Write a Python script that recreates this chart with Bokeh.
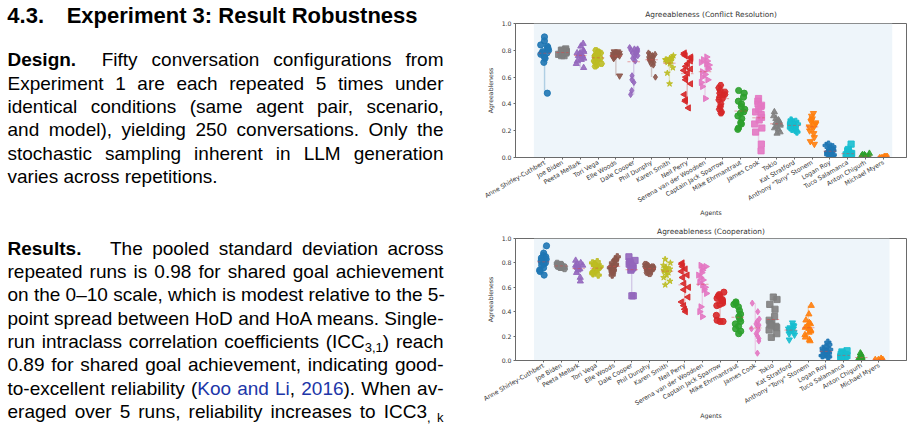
import math
from bokeh.plotting import figure
from bokeh.models import ColumnDataSource, FixedTicker, BoxAnnotation, Div, Range1d, PrintfTickFormatter
from bokeh.layouts import row, column
from bokeh.transform import jitter
from bokeh.embed import file_html
from bokeh.resources import INLINE

AGENTS = ["Anne Shirley-Cuthbert", "Joe Biden", "Peeta Mellark", "Tori Vega", "Elle Woods",
          "Dale Cooper", "Phil Dunphy", "Karen Smith", "Neil Perry", "Serena van der Woodsen",
          "Captain Jack Sparrow", "Mike Ehrmantraut", "James Cook", "Tokio", "Kat Stratford",
          'Anthony "Tony" Stonem', "Logan Roy", "Tuco Salamanca", "Anton Chigurh", "Michael Myers"]
Y_TICKS = [0.0, 0.2, 0.4, 0.6, 0.8, 1.0]

# ---- Agreeableness (Conflict Resolution) ----
cr_anne = [0.90, 0.87, 0.84, 0.83, 0.82, 0.81, 0.80, 0.79, 0.78, 0.78, 0.77, 0.75, 0.74, 0.71, 0.48]
cr_joe = [0.81, 0.80, 0.80, 0.79, 0.79, 0.78, 0.78, 0.77, 0.77, 0.76, 0.76, 0.77, 0.78, 0.79, 0.80]
cr_peeta = [0.85, 0.83, 0.80, 0.79, 0.78, 0.77, 0.76, 0.76, 0.75, 0.74, 0.73, 0.72, 0.70, 0.67, 0.78]
cr_tori = [0.80, 0.79, 0.78, 0.77, 0.76, 0.75, 0.74, 0.73, 0.72, 0.71, 0.70, 0.69, 0.68, 0.76, 0.78]
cr_elle = [0.79, 0.78, 0.78, 0.77, 0.77, 0.77, 0.76, 0.76, 0.75, 0.75, 0.74, 0.78, 0.79, 0.61, 0.76]
cr_dale = [0.82, 0.81, 0.80, 0.79, 0.77, 0.76, 0.75, 0.74, 0.72, 0.61, 0.58, 0.56, 0.50, 0.47, 0.78, 0.80, 0.79, 0.81]
cr_phil = [0.78, 0.77, 0.76, 0.75, 0.74, 0.74, 0.73, 0.72, 0.71, 0.70, 0.69, 0.60, 0.77, 0.75, 0.73]
cr_karen = [0.76, 0.75, 0.74, 0.73, 0.73, 0.72, 0.71, 0.70, 0.67, 0.63, 0.55, 0.74, 0.72]
cr_neil = [0.78, 0.77, 0.76, 0.75, 0.74, 0.72, 0.70, 0.68, 0.66, 0.65, 0.63, 0.60, 0.58, 0.55, 0.47, 0.43, 0.42, 0.37]
cr_serena = [0.75, 0.73, 0.72, 0.70, 0.69, 0.67, 0.66, 0.64, 0.62, 0.60, 0.58, 0.56, 0.53, 0.44, 0.71]
cr_jack = [0.54, 0.52, 0.50, 0.49, 0.48, 0.47, 0.46, 0.45, 0.44, 0.43, 0.40, 0.38, 0.36, 0.34, 0.33]
cr_mike = [0.50, 0.48, 0.45, 0.42, 0.40, 0.38, 0.36, 0.34, 0.33, 0.31, 0.29, 0.26, 0.25, 0.22, 0.21]
cr_james = [0.44, 0.42, 0.40, 0.39, 0.38, 0.36, 0.34, 0.32, 0.30, 0.28, 0.25, 0.22, 0.19, 0.10, 0.05]
cr_tokio = [0.34, 0.31, 0.29, 0.28, 0.27, 0.26, 0.25, 0.25, 0.24, 0.23, 0.22, 0.21, 0.19, 0.18]
cr_kat = [0.28, 0.27, 0.27, 0.26, 0.26, 0.25, 0.25, 0.24, 0.24, 0.23, 0.22, 0.22, 0.21, 0.20, 0.19]
cr_tony = [0.33, 0.31, 0.29, 0.28, 0.27, 0.26, 0.25, 0.24, 0.23, 0.22, 0.20, 0.18, 0.15, 0.12, 0.10]
cr_logan = [0.10, 0.09, 0.08, 0.07, 0.06, 0.05, 0.05, 0.04, 0.04, 0.03, 0.03, 0.02, 0.02, 0.01, 0.01]
cr_tuco = [0.10, 0.06, 0.05, 0.04, 0.03, 0.03, 0.02, 0.02, 0.01, 0.01, 0.01, 0.00, 0.00, 0.02]
cr_anton = [0.03, 0.02, 0.02, 0.01, 0.01, 0.01, 0.00, 0.00, 0.00, 0.01]
cr_michael = [0.01, 0.01, 0.00, 0.00, 0.00, 0.00, 0.01, 0.00]

# ---- Agreeableness (Cooperation) ----
co_anne = [0.94, 0.88, 0.86, 0.85, 0.84, 0.83, 0.82, 0.81, 0.80, 0.79, 0.78, 0.76, 0.74, 0.73, 0.70]
co_joe = [0.80, 0.79, 0.79, 0.78, 0.78, 0.77, 0.77, 0.76, 0.76, 0.75, 0.78, 0.77, 0.79, 0.76]
co_peeta = [0.82, 0.80, 0.79, 0.78, 0.77, 0.76, 0.75, 0.75, 0.74, 0.72, 0.68, 0.65, 0.78]
co_tori = [0.81, 0.80, 0.79, 0.78, 0.77, 0.76, 0.75, 0.74, 0.73, 0.72, 0.71, 0.70, 0.78]
co_elle = [0.85, 0.83, 0.82, 0.80, 0.79, 0.78, 0.77, 0.76, 0.75, 0.74, 0.73, 0.72, 0.70]
co_dale = [0.85, 0.82, 0.81, 0.80, 0.79, 0.78, 0.77, 0.76, 0.75, 0.74, 0.53, 0.53]
co_phil = [0.79, 0.78, 0.77, 0.76, 0.76, 0.75, 0.75, 0.74, 0.73, 0.72, 0.71, 0.77]
co_karen = [0.83, 0.80, 0.78, 0.76, 0.75, 0.74, 0.73, 0.72, 0.70, 0.68, 0.65, 0.62, 0.76]
co_neil = [0.80, 0.79, 0.77, 0.75, 0.73, 0.70, 0.68, 0.63, 0.60, 0.58, 0.52, 0.48, 0.45, 0.42, 0.40]
co_serena = [0.78, 0.77, 0.76, 0.74, 0.72, 0.70, 0.68, 0.66, 0.64, 0.62, 0.60, 0.58, 0.55, 0.44, 0.40, 0.36]
co_jack = [0.56, 0.54, 0.53, 0.52, 0.51, 0.50, 0.49, 0.48, 0.47, 0.46, 0.45, 0.37, 0.33, 0.32, 0.32]
co_mike = [0.48, 0.47, 0.46, 0.44, 0.41, 0.38, 0.36, 0.34, 0.32, 0.30, 0.28, 0.26, 0.24, 0.22]
co_james = [0.47, 0.40, 0.34, 0.32, 0.30, 0.29, 0.28, 0.26, 0.25, 0.22, 0.20, 0.18, 0.16, 0.06]
co_tokio = [0.52, 0.50, 0.46, 0.42, 0.36, 0.33, 0.31, 0.30, 0.29, 0.28, 0.27, 0.25, 0.22, 0.19]
co_kat = [0.31, 0.29, 0.28, 0.27, 0.26, 0.26, 0.25, 0.25, 0.24, 0.23, 0.22, 0.21, 0.17]
co_tony = [0.45, 0.38, 0.33, 0.31, 0.30, 0.28, 0.27, 0.26, 0.25, 0.24, 0.23, 0.21, 0.19, 0.17, 0.16]
co_logan = [0.15, 0.13, 0.11, 0.10, 0.09, 0.08, 0.07, 0.07, 0.06, 0.05, 0.04, 0.04, 0.03, 0.03]
co_tuco = [0.08, 0.07, 0.06, 0.05, 0.05, 0.04, 0.04, 0.03, 0.03, 0.02, 0.02, 0.01]
co_anton = [0.06, 0.05, 0.03, 0.02, 0.02, 0.01, 0.01, 0.01, 0.01]
co_michael = [0.02, 0.01, 0.01, 0.00, 0.00, 0.00, 0.01]

CR = [cr_anne, cr_joe, cr_peeta, cr_tori, cr_elle, cr_dale, cr_phil, cr_karen, cr_neil, cr_serena,
      cr_jack, cr_mike, cr_james, cr_tokio, cr_kat, cr_tony, cr_logan, cr_tuco, cr_anton, cr_michael]
CO = [co_anne, co_joe, co_peeta, co_tori, co_elle, co_dale, co_phil, co_karen, co_neil, co_serena,
      co_jack, co_mike, co_james, co_tokio, co_kat, co_tony, co_logan, co_tuco, co_anton, co_michael]

# ---- styles ----
BLUE, ORANGE, GREEN, RED, PURPLE = "#1f77b4", "#ff7f0e", "#2ca02c", "#d62728", "#9467bd"
BROWN, PINK, GRAY, OLIVE, CYAN = "#8c564b", "#e377c2", "#7f7f7f", "#bcbd22", "#17becf"
COLORS = [BLUE, GRAY, PURPLE, OLIVE, BROWN, PURPLE, BROWN, OLIVE, RED, PINK,
          RED, GREEN, PINK, GRAY, CYAN, ORANGE, BLUE, CYAN, GREEN, ORANGE]
MARK_CR = ["circle", "square", "triangle", "hex", "inverted_triangle", "diamond", "diamond", "star",
           "tri_left", "tri_right", "hex", "circle", "square", "triangle", "plus", "inverted_triangle",
           "plus", "square", "triangle", "diamond"]
MARK_CO = ["circle", "hex", "triangle", "plus", "plus", "square", "hex", "star",
           "tri_left", "tri_right", "circle", "circle", "diamond", "square", "inverted_triangle", "triangle",
           "plus", "square", "triangle", "diamond"]
FONT = "DejaVu Sans"
TXT = "#333333"
SPINE = "#6a6a6a"


def build(title, series, markers, xr, span, height, borders, standoff):
    xs, ys, cs, ms, angs = [], [], [], [], []
    seg_x, lo, hi, means = [], [], [], []
    for i, vals in enumerate(series):
        seg_x.append(i)
        lo.append(min(vals))
        hi.append(max(vals))
        means.append(sum(vals) / len(vals))
        for v in vals:
            xs.append(i)
            ys.append(v)
            cs.append(COLORS[i])
            m = markers[i]
            if m == "tri_left":
                ms.append("triangle"); angs.append(math.pi / 2)
            elif m == "tri_right":
                ms.append("triangle"); angs.append(-math.pi / 2)
            else:
                ms.append(m); angs.append(0.0)
    left, right, top, bottom = borders
    p = figure(width=448, height=height, x_range=Range1d(*xr), y_range=Range1d(0, 1),
               output_backend="svg", toolbar_location=None, title=title,
               min_border_left=left, min_border_right=right, min_border_top=top,
               min_border_bottom=bottom)
    p.title.align = "center"
    p.title.text_font = FONT
    p.title.text_font_style = "normal"
    p.title.text_font_size = "7.4px"
    p.title.text_color = TXT
    p.title.standoff = standoff
    p.xgrid.visible = False
    p.ygrid.visible = False
    p.outline_line_color = SPINE
    p.outline_line_width = 1
    p.add_layout(BoxAnnotation(left=span[0], right=span[1], fill_color="#eef5fa", fill_alpha=1.0,
                               line_color=None, level="underlay"))
    p.segment(x0=seg_x, y0=lo, x1=seg_x, y1=hi, line_color=COLORS, line_alpha=0.3, line_width=1.4)
    src = ColumnDataSource(dict(x=xs, y=ys, c=cs, m=ms, a=angs))
    p.scatter(x=jitter("x", width=0.46, distribution="uniform"), y="y", marker="m", angle="a",
              fill_color="c", line_color="c", fill_alpha=0.9, line_alpha=0.9, size=6.2, source=src)
    p.segment(x0=[i - 0.35 for i in seg_x], y0=means, x1=[i + 0.35 for i in seg_x], y1=means,
              line_color="#e04848", line_alpha=0.5, line_width=1.0, line_dash="3 2")

    p.xaxis.ticker = FixedTicker(ticks=list(range(len(AGENTS))))
    p.xaxis.major_label_overrides = {i: a for i, a in enumerate(AGENTS)}
    p.xaxis.major_label_orientation = math.pi / 6
    p.yaxis.ticker = FixedTicker(ticks=Y_TICKS)
    p.yaxis.formatter = PrintfTickFormatter(format="%.1f")
    p.xaxis.axis_label = "Agents"
    p.yaxis.axis_label = "Agreeableness"
    for ax in (p.xaxis[0], p.yaxis[0]):
        ax.axis_line_color = SPINE
        ax.major_tick_line_color = SPINE
        ax.major_tick_out = 2
        ax.major_tick_in = 0
        ax.minor_tick_line_color = None
        ax.major_label_text_font = FONT
        ax.major_label_text_font_size = "6.2px"
        ax.major_label_text_color = TXT
        ax.major_label_standoff = 2
        ax.axis_label_text_font = FONT
        ax.axis_label_text_font_size = "6.2px"
        ax.axis_label_text_font_style = "normal"
        ax.axis_label_text_color = TXT
    p.yaxis[0].axis_label_standoff = 5
    p.xaxis[0].axis_label_standoff = 0
    return p


p1 = build("Agreeableness (Conflict Resolution)", CR, MARK_CR, (-1.63, 20.3), (-0.6, 19.5),
           220, (45, 12, 23, 63), 10)
p2 = build("Agreeableness (Cooperation)", CO, MARK_CO, (-1.58, 20.56), (-0.53, 19.6),
           217, (38, 8, 18, 77), 5)

BLUE_TXT = "#2036a8"
JL = "text-align:justify;text-align-last:justify;white-space:nowrap;"
LL = "text-align:left;white-space:nowrap;"
SUB = '<sub style="font-size:13px;line-height:0;vertical-align:-4px">'
GAP_D = '<span style="display:inline-block;width:25.6px"></span>'
GAP_R = '<span style="display:inline-block;width:28.6px"></span>'

design_lines = [
    '<b>Design.</b>' + GAP_D + 'Fifty conversation configurations from',
    'Experiment 1 are each repeated 5 times under',
    'identical conditions (same agent pair, scenario,',
    'and model), yielding 250 conversations. Only the',
    'stochastic sampling inherent in LLM generation',
]
design_last = 'varies across repetitions.'
results_lines = [
    '<b>Results.</b>' + GAP_R + 'The pooled standard deviation across',
    'repeated runs is 0.98 for shared goal achievement',
    'on the 0\u201310 scale, which is modest relative to the 5-',
    'point spread between HoD and HoA means. Single-',
    'run intraclass correlation coefficients (ICC' + SUB + '3,1</sub>) reach',
    '0.89 for shared goal achievement, indicating good-',
    'to-excellent reliability (<span style="color:%s">Koo and Li</span>, '
    '<span style="color:%s">2016</span>). When av-' % (BLUE_TXT, BLUE_TXT),
    'eraged over 5 runs, reliability increases to ICC3' + SUB + ', k</sub>',
]

design_html = "".join('<div style="%s">%s</div>' % (JL, t) for t in design_lines)
design_html += '<div style="%s">%s</div>' % (LL, design_last)
results_html = "".join('<div style="%s">%s</div>' % (JL, t) for t in results_lines)

html = (
    '<div style="position:relative;width:470px;height:437px;overflow:hidden;'
    "font-family:'Liberation Sans',Arial,Helvetica,sans-serif;color:#000;\">"
    '<div style="position:absolute;left:7.3px;top:2.7px;font-size:22px;font-weight:bold;'
    'line-height:26px;white-space:nowrap"><span style="display:inline-block;width:59.4px">4.3.</span>'
    'Experiment 3: Result Robustness</div>'
    '<div style="position:absolute;left:7.5px;top:48.4px;width:436px;font-size:19px;line-height:23.35px">'
    + design_html + '</div>'
    '<div style="position:absolute;left:7.5px;top:236.7px;width:436px;font-size:19px;line-height:23.35px">'
    + results_html + '</div>'
    '</div>'
)
div = Div(text=html, width=470, height=437, margin=0)

layout = row(div, column(p1, p2, spacing=0), spacing=0)
open("out.html", "w").write(file_html(layout, INLINE))
